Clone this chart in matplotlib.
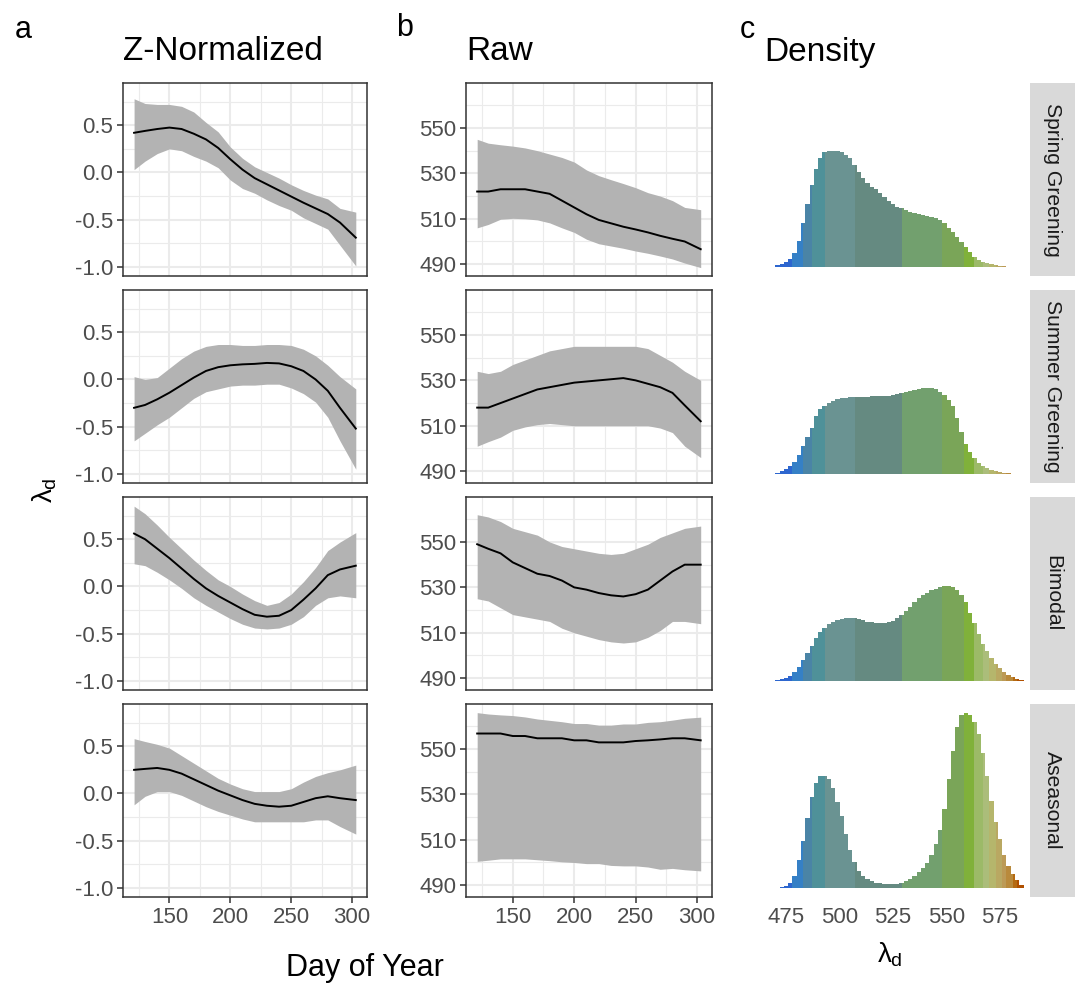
import numpy as np
import matplotlib
matplotlib.use("Agg")
import matplotlib.pyplot as plt

plt.rcParams['font.family'] = ['Liberation Sans', 'DejaVu Sans']
plt.rcParams['mathtext.fontset'] = 'custom'
plt.rcParams['mathtext.rm'] = 'Liberation Sans'
plt.rcParams['mathtext.it'] = 'Liberation Sans'

patterns = ["Spring Greening", "Summer Greening", "Bimodal", "Aseasonal"]
days = [121, 130, 140, 150, 160, 170, 180, 190, 200, 210, 220, 230, 240, 250, 260, 270, 280, 290, 303]

# z-normalized smooths: mean, lower, upper
z_mean = [
    [0.42, 0.44, 0.46, 0.475, 0.46, 0.41, 0.35, 0.26, 0.14, 0.03, -0.06, -0.125, -0.19, -0.255, -0.32, -0.38, -0.44, -0.53, -0.69],
    [-0.30, -0.27, -0.21, -0.14, -0.06, 0.02, 0.09, 0.13, 0.15, 0.16, 0.165, 0.175, 0.17, 0.14, 0.09, 0.0, -0.12, -0.30, -0.52],
    [0.56, 0.50, 0.40, 0.30, 0.19, 0.08, -0.02, -0.10, -0.17, -0.24, -0.30, -0.32, -0.31, -0.25, -0.14, -0.02, 0.12, 0.18, 0.22],
    [0.25, 0.26, 0.27, 0.25, 0.21, 0.15, 0.09, 0.03, -0.02, -0.07, -0.11, -0.13, -0.14, -0.13, -0.09, -0.05, -0.03, -0.05, -0.07],
]
z_lo = [
    [0.03, 0.12, 0.20, 0.25, 0.23, 0.17, 0.12, 0.05, -0.08, -0.17, -0.22, -0.29, -0.35, -0.40, -0.48, -0.54, -0.60, -0.77, -0.99],
    [-0.65, -0.57, -0.48, -0.40, -0.30, -0.20, -0.13, -0.10, -0.07, -0.06, -0.06, -0.05, -0.05, -0.09, -0.15, -0.24, -0.40, -0.65, -0.95],
    [0.24, 0.22, 0.15, 0.07, -0.02, -0.12, -0.20, -0.27, -0.34, -0.40, -0.44, -0.45, -0.44, -0.40, -0.32, -0.20, -0.12, -0.10, -0.12],
    [-0.12, -0.03, 0.02, 0.02, -0.02, -0.08, -0.14, -0.19, -0.23, -0.27, -0.30, -0.30, -0.30, -0.30, -0.30, -0.28, -0.28, -0.35, -0.43],
]
z_hi = [
    [0.78, 0.73, 0.72, 0.72, 0.70, 0.64, 0.53, 0.43, 0.27, 0.15, 0.06, 0.0, -0.06, -0.13, -0.19, -0.24, -0.28, -0.38, -0.42],
    [0.03, 0.0, 0.02, 0.12, 0.22, 0.30, 0.35, 0.37, 0.37, 0.36, 0.36, 0.37, 0.37, 0.36, 0.32, 0.25, 0.15, 0.03, -0.10],
    [0.85, 0.77, 0.65, 0.52, 0.40, 0.28, 0.17, 0.07, 0.0, -0.08, -0.15, -0.20, -0.17, -0.08, 0.05, 0.20, 0.38, 0.47, 0.57],
    [0.58, 0.55, 0.52, 0.48, 0.40, 0.32, 0.24, 0.16, 0.10, 0.05, 0.02, 0.02, 0.02, 0.05, 0.12, 0.18, 0.22, 0.25, 0.30],
]

# raw smooths (nm)
raw_mean = [
    [522, 522, 523, 523, 523, 522, 521, 518, 515, 512, 509.5, 508, 506.5, 505.3, 504, 502.5, 501.2, 500, 496.6],
    [518, 518, 520, 522, 524, 526, 527, 528, 529, 529.5, 530, 530.5, 531, 530, 528.5, 527, 524.5, 519, 512],
    [549, 547, 545, 541, 538.5, 536, 535, 533, 530, 529, 527.5, 526.5, 526, 527, 529, 533, 537, 540, 540],
    [556.8, 556.8, 556.8, 555.7, 555.7, 554.7, 554.7, 554.7, 553.8, 553.8, 552.9, 552.9, 552.9, 553.5, 553.8, 554.2, 554.7, 554.7, 553.8],
]
raw_lo = [
    [506, 507.5, 509.8, 510.2, 510, 509.5, 508.2, 506, 504, 501, 499, 498, 497, 495.8, 494.8, 493.6, 492.3, 490.5, 488.5],
    [501, 503, 505, 508, 509.5, 510.5, 511, 510.5, 510, 510, 510, 510, 510, 510, 510, 509, 507, 501, 496],
    [525, 524, 521, 518, 517, 516, 515, 512, 510, 508.5, 507, 506, 505.5, 506, 508, 511, 515, 515, 514],
    [500.5, 501, 501.6, 501.6, 501.6, 501.2, 500.8, 500.3, 500, 499.5, 499.5, 498.7, 498.5, 498.5, 498, 497, 497.4, 496.8, 496.3],
]
raw_hi = [
    [545, 543.3, 542.6, 542, 541.2, 540, 538.5, 537, 535, 531.5, 529, 527.2, 525.5, 523.7, 521.5, 520, 518, 515, 514],
    [534, 533, 534, 537, 539, 541, 543, 544, 545, 545, 545, 545, 545, 545, 544, 541, 538, 534, 530],
    [562, 561, 559, 556, 554.5, 553, 550, 548, 547, 546, 545, 544.5, 545, 547, 549, 552, 554, 556, 557],
    [566, 565.4, 565, 564.7, 564.1, 563.2, 562.6, 562, 561.2, 561.2, 560.5, 560.5, 561, 561, 561.7, 562, 562.7, 563.5, 564],
]

# density of dominant wavelength, 2 nm bins
bin_edges = list(range(470, 588, 2))
dens = [
    [0.01, 0.02, 0.03, 0.045, 0.08, 0.15, 0.25, 0.36, 0.47, 0.56, 0.62, 0.655, 0.665, 0.665, 0.66, 0.655, 0.64, 0.62,
     0.585, 0.54, 0.51, 0.48, 0.46, 0.445, 0.425, 0.40, 0.38, 0.36, 0.345, 0.335, 0.325, 0.315, 0.308, 0.303, 0.298,
     0.292, 0.286, 0.278, 0.268, 0.25, 0.225, 0.20, 0.175, 0.145, 0.115, 0.085, 0.06, 0.042, 0.03, 0.022, 0.016,
     0.011, 0.008, 0.005, 0.003, 0.002, 0.001, 0.0],
    [0.008, 0.016, 0.028, 0.045, 0.07, 0.11, 0.16, 0.21, 0.265, 0.33, 0.37, 0.39, 0.405, 0.418, 0.426, 0.432, 0.436,
     0.438, 0.44, 0.441, 0.442, 0.443, 0.444, 0.445, 0.446, 0.447, 0.448, 0.45, 0.455, 0.462, 0.47, 0.477, 0.482,
     0.486, 0.489, 0.49, 0.489, 0.483, 0.47, 0.45, 0.425, 0.39, 0.32, 0.24, 0.17, 0.125, 0.09, 0.065, 0.048, 0.037,
     0.026, 0.018, 0.012, 0.008, 0.005, 0.003, 0.002, 0.001],
    [0.005, 0.01, 0.018, 0.03, 0.05, 0.08, 0.12, 0.16, 0.20, 0.245, 0.28, 0.305, 0.325, 0.34, 0.35, 0.357, 0.36, 0.36,
     0.358, 0.353, 0.347, 0.34, 0.335, 0.332, 0.33, 0.332, 0.337, 0.345, 0.36, 0.38, 0.40, 0.425, 0.45, 0.472, 0.49,
     0.505, 0.518, 0.528, 0.535, 0.54, 0.54, 0.535, 0.52, 0.49, 0.45, 0.39, 0.33, 0.27, 0.215, 0.17, 0.13, 0.10,
     0.075, 0.055, 0.038, 0.024, 0.013, 0.006],
    [0.003, 0.008, 0.015, 0.03, 0.07, 0.16, 0.27, 0.40, 0.52, 0.60, 0.64, 0.64, 0.62, 0.57, 0.49, 0.41, 0.31, 0.22,
     0.15, 0.10, 0.07, 0.05, 0.04, 0.032, 0.027, 0.024, 0.022, 0.022, 0.025, 0.032, 0.042, 0.055, 0.07, 0.09, 0.115,
     0.145, 0.19, 0.25, 0.33, 0.45, 0.62, 0.78, 0.92, 0.99, 1.0, 0.99, 0.95, 0.88, 0.77, 0.64, 0.50, 0.38, 0.28,
     0.19, 0.125, 0.08, 0.045, 0.02],
]

# wavelength colour bands
band_edges = [468, 478, 483, 487, 493, 507, 529, 548, 558, 563, 567, 570, 573, 576, 578, 581, 583, 588]
band_colors = ['#2d66cf', '#3580c6', '#4a84a6', '#4f9199', '#6a9392', '#658a81', '#72a06e', '#7aa558', '#80b13a',
               '#9cba68', '#abbd7a', '#b5b66c', '#b9a862', '#bc9a56', '#b98a3c', '#b56a12', '#b05000']

W, H = 1079, 984
fig = plt.figure(figsize=(W / 100, H / 100), dpi=100)


def box(x0, y0, x1, y1):
    return [x0 / W, 1 - y1 / H, (x1 - x0) / W, (y1 - y0) / H]


row_top = [83, 290, 497, 704]
row_h = 193
grid_major = '#ebebeb'
txt_gray = '#4d4d4d'
tick_fs = 16


def line_panel(ax, mean, lo, hi, ylim, yticks, yminor):
    ax.fill_between(days, lo, hi, color='#b3b3b3', lw=0, zorder=2)
    ax.plot(days, mean, color='black', lw=1.4, zorder=3)
    ax.set_xlim(111.9, 312.2)
    ax.set_ylim(*ylim)
    ax.set_xticks([150, 200, 250, 300])
    ax.set_xticks([125, 175, 225, 275], minor=True)
    ax.set_yticks(yticks)
    ax.set_yticks(yminor, minor=True)
    ax.grid(True, which='major', color=grid_major, lw=1.5, zorder=0)
    ax.grid(True, which='minor', color=grid_major, lw=0.8, zorder=0)
    ax.set_axisbelow(True)
    for s in ax.spines.values():
        s.set_color('#333333')
        s.set_linewidth(1.1)
    ax.tick_params(which='major', length=4, width=1.1, color='#333333', labelcolor=txt_gray,
                   labelsize=tick_fs, pad=3)
    ax.tick_params(which='minor', length=0)


for i, pat in enumerate(patterns):
    top = row_top[i]
    # panel a
    ax = fig.add_axes(box(123, top, 367, top + row_h))
    line_panel(ax, z_mean[i], z_lo[i], z_hi[i], (-1.096, 0.947), [-1.0, -0.5, 0.0, 0.5], [-0.75, -0.25, 0.25, 0.75])
    ax.set_yticklabels(['-1.0', '-0.5', '0.0', '0.5'])
    if i < 3:
        ax.tick_params(axis='x', which='both', length=0, labelbottom=False)
    # panel b
    ax = fig.add_axes(box(466, top, 712, top + row_h))
    line_panel(ax, raw_mean[i], raw_lo[i], raw_hi[i], (484.8, 569.8), [490, 510, 530, 550], [500, 520, 540, 560])
    if i < 3:
        ax.tick_params(axis='x', which='both', length=0, labelbottom=False)
    # panel c
    ax = fig.add_axes(box(770, top, 1030, top + row_h))
    d = dens[i]
    for k in range(len(band_colors)):
        lo_b = max(band_edges[k], bin_edges[0])
        hi_b = min(band_edges[k + 1], bin_edges[-1])
        if hi_b <= lo_b:
            continue
        e = sorted(set([lo_b, hi_b] + [b for b in bin_edges if lo_b < b < hi_b]))
        vals = [d[int((0.5 * (e[j] + e[j + 1]) - bin_edges[0]) // 2)] for j in range(len(e) - 1)]
        ax.stairs(vals, e, fill=True, color=band_colors[k], lw=0)
    ax.set_xlim(467.5, 589)
    ax.set_ylim(-0.05, 1.05)
    ax.set_yticks([])
    ax.set_xticks([475, 500, 525, 550, 575])
    for s in ax.spines.values():
        s.set_visible(False)
    ax.tick_params(axis='x', length=0, labelcolor=txt_gray, labelsize=tick_fs, pad=7)
    if i < 3:
        ax.tick_params(axis='x', labelbottom=False)
    # strip
    sax = fig.add_axes(box(1030, top, 1075, top + row_h))
    sax.set_facecolor('#d9d9d9')
    sax.set_xticks([])
    sax.set_yticks([])
    for s in sax.spines.values():
        s.set_visible(False)
    sax.text(0.5, 0.5, pat, rotation=-90, ha='center', va='center', fontsize=15.2, color='#1a1a1a',
             transform=sax.transAxes)

# titles and labels
fig.text(23 / W, 1 - 30 / H, 'a', fontsize=22, ha='center', va='center')
fig.text(405 / W, 1 - 28 / H, 'b', fontsize=22, ha='center', va='center')
fig.text(747 / W, 1 - 30 / H, 'c', fontsize=22, ha='center', va='center')
fig.text(123 / W, 1 - 52 / H, 'Z-Normalized', fontsize=24, ha='left', va='center')
fig.text(466 / W, 1 - 52 / H, 'Raw', fontsize=24, ha='left', va='center')
fig.text(764 / W, 1 - 52 / H, 'Density', fontsize=24, ha='left', va='center')
fig.text(365 / W, 1 - 968 / H, 'Day of Year', fontsize=22, ha='center', va='center')
fig.text(45 / W, 1 - 490 / H, r'$\lambda_\mathrm{d}$', fontsize=20, ha='center', va='center', rotation=90)
fig.text(890 / W, 1 - 955 / H, r'$\lambda_\mathrm{d}$', fontsize=20, ha='center', va='center')

fig.savefig('out.png', dpi=100)
